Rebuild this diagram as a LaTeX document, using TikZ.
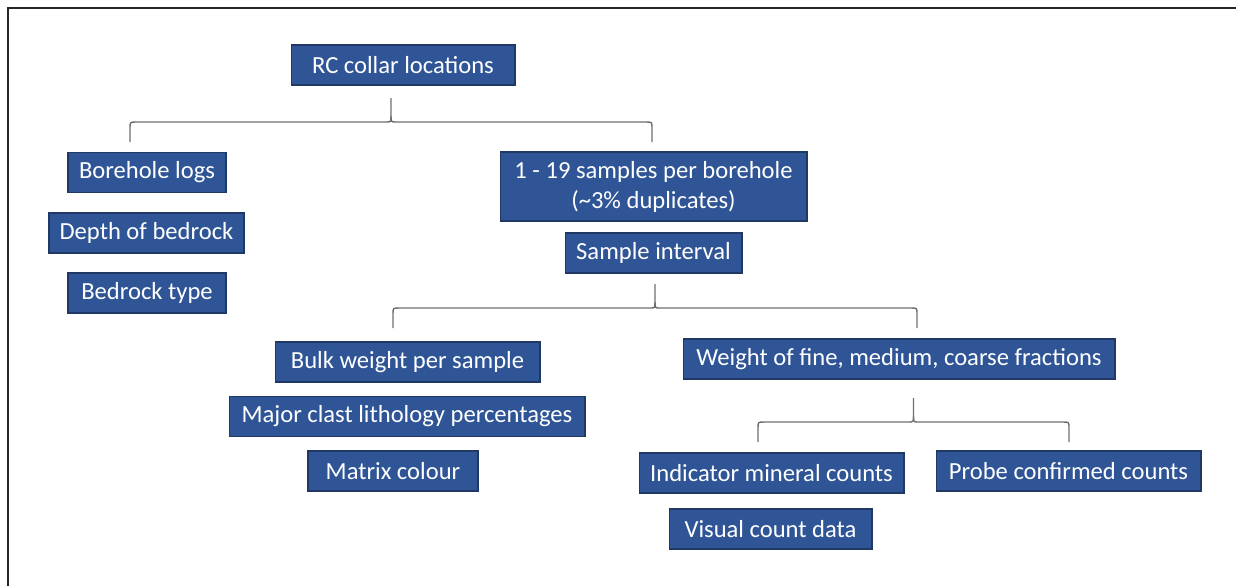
\documentclass[tikz,border=0pt]{standalone}
\usepackage{fontspec}
\setmainfont{Carlito}
\definecolor{boxblue}{RGB}{47,85,151}
\definecolor{boxedge}{RGB}{32,56,100}
\definecolor{bracegray}{RGB}{110,110,110}
\begin{document}
\begin{tikzpicture}[x=0.02cm, y=-0.02cm, semithick,
        item/.style={draw=boxedge, line width=0.6pt, fill=boxblue, text=white,
            inner sep=0pt, minimum height=0.8cm, align=center,
            font=\fontsize{14}{17}\selectfont},
        bracket/.style={draw=bracegray, line width=0.8pt}]
        \useasboundingbox (0, 0) rectangle (1239, 586);
        \draw[line width=1pt, black!85] (8, 586) -- (8, 8) -- (1236, 8);
        % boxes
        \node[item, minimum width=4.48cm] (rc) at (403, 65) {RC collar locations};
        \node[item, minimum width=3.16cm] (logs) at (147, 172.5) {Borehole logs};
        \node[item, minimum width=3.9cm] (depth) at (146.5, 233) {Depth of bedrock};
        \node[item, minimum width=3.16cm] (type) at (147, 293) {Bedrock type};
        \node[item, minimum width=6.14cm, minimum height=1.38cm] (samples) at (653.5, 186.5)
            {1 - 19 samples per borehole\\(\textasciitilde3\% duplicates)};
        \node[item, minimum width=3.54cm] (interval) at (653.5, 253) {Sample interval};
        \node[item, minimum width=5.3cm] (bulk) at (407.5, 362) {Bulk weight per sample};
        \node[item, minimum width=7.12cm] (major) at (407, 416.5) {Major clast lithology percentages};
        \node[item, minimum width=3.4cm] (matrix) at (393, 471) {Matrix colour};
        \node[item, minimum width=8.64cm] (fractions) at (899, 359) {Weight of fine, medium, coarse fractions};
        \node[item, minimum width=5.3cm] (indicator) at (771.5, 473) {Indicator mineral counts};
        \node[item, minimum width=5.3cm] (probe) at (1068.5, 471) {Probe confirmed counts};
        \node[item, minimum width=4.06cm] (visual) at (770.5, 529) {Visual count data};
        % braces: left end, right end, level of the bar
        \foreach \xl/\xr/\h in {130/652/122, 393/917/308, 758/1069/422}{
            \pgfmathsetmacro{\xm}{(\xl+\xr)/2}
            \draw[bracket] (\xl, \h+20) -- (\xl, \h+6) .. controls (\xl, \h) .. (\xl+6, \h)
                -- (\xm-5, \h) .. controls (\xm, \h) .. (\xm, \h-6) -- (\xm, \h-24);
            \draw[bracket] (\xr, \h+20) -- (\xr, \h+6) .. controls (\xr, \h) .. (\xr-6, \h)
                -- (\xm+5, \h) .. controls (\xm, \h) .. (\xm, \h-6);
        }
    \end{tikzpicture}
\end{document}
